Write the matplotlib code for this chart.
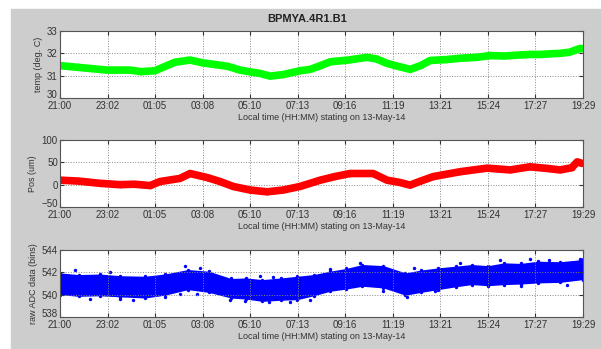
import matplotlib.pyplot as plt
import matplotlib.transforms as mtransforms
from matplotlib.patches import Rectangle

plt.rcParams["font.family"] = ["Liberation Sans", "DejaVu Sans"]

# hours since 21:00 on 12-May
tick_labels = ["21:00", "23:02", "01:05", "03:08", "05:10", "07:13",
               "09:16", "11:19", "13:21", "15:24", "17:27", "19:29"]
t_end = 22.48

temp_t = [0.0, 1.0, 2.02, 3.0, 3.48, 4.08, 4.94, 5.59, 6.1, 6.66, 7.2, 7.74,
          8.17, 8.6, 9.03, 9.6, 10.32, 10.75, 11.2, 11.61, 12.4, 13.2, 13.6,
          14.06, 14.6, 15.05, 15.5, 15.91, 16.6, 17.2, 17.9, 18.49, 19.1,
          19.65, 20.2, 20.64, 21.1, 21.5, 21.9, 22.36, 22.48]
temp_v = [31.45, 31.35, 31.25, 31.25, 31.18, 31.22, 31.6, 31.7, 31.58, 31.5,
          31.42, 31.25, 31.17, 31.1, 30.98, 31.05, 31.22, 31.28, 31.45, 31.62,
          31.7, 31.82, 31.75, 31.55, 31.4, 31.28, 31.45, 31.68, 31.72, 31.78,
          31.82, 31.9, 31.88, 31.92, 31.95, 31.95, 31.98, 32.0, 32.05, 32.22,
          32.2]

pos_t = [0.0, 0.8, 1.72, 2.58, 3.2, 3.87, 4.3, 5.16, 5.59, 6.32, 6.88, 7.44,
         8.17, 8.9, 9.59, 10.32, 11.18, 11.8, 12.47, 13.46, 14.06, 14.6,
         15.05, 15.5, 16.04, 17.2, 18.36, 19.35, 20.2, 21.0, 21.5, 22.0,
         22.23, 22.48]
pos_v = [10, 8, 3, 0, 1, -2, 7, 14, 25, 16, 7, -4, -12, -16, -12, -4, 10,
         18, 25, 25, 10, 5, -1, 8, 18, 29, 37, 33, 40, 36, 33, 38, 51, 47]

adc_t = [0.0, 0.8, 1.7, 2.6, 3.65, 4.5, 5.5, 6.4, 7.35, 8.0, 8.7, 9.5, 10.2,
         10.9, 11.6, 12.3, 13.0, 13.9, 14.85, 15.5, 16.25, 17.0, 17.7, 18.4,
         19.1, 19.8, 20.55, 21.5, 22.48]
adc_hi = [541.95, 541.8, 541.85, 541.7, 541.65, 541.85, 542.25, 542.1,
          541.45, 541.5, 541.35, 541.5, 541.65, 541.8, 542.1, 542.35, 542.7,
          542.6, 541.95, 542.2, 542.4, 542.55, 542.7, 542.6, 542.85, 542.8,
          543.0, 542.95, 543.15]
adc_lo = [540.0, 539.85, 539.9, 539.8, 539.7, 539.95, 540.45, 540.2, 539.7,
          539.6, 539.4, 539.5, 539.55, 539.9, 540.3, 540.5, 540.75, 540.6,
          539.95, 540.2, 540.45, 540.7, 540.9, 540.8, 540.9, 540.95, 541.05,
          541.1, 541.35]
adc_out_t = [0.64, 1.29, 2.15, 3.14, 5.37, 5.16, 6.02, 7.31, 7.95, 9.16, 9.9,
             10.75, 12.9, 14.92, 17.2, 18.92, 20.2, 21.8, 22.36, 13.9, 4.5,
             11.6, 16.1, 19.8, 2.6, 8.6, 5.9, 9.0, 15.2, 21.0]
adc_out_v = [542.2, 539.65, 542.0, 539.55, 542.57, 540.1, 542.35, 539.5,
             539.4, 541.6, 539.35, 539.5, 542.85, 539.75, 542.85, 543.1,
             543.15, 540.9, 543.2, 540.35, 539.75, 542.3, 540.3, 540.75,
             539.65, 541.65, 540.05, 539.3, 542.35, 543.1]

fig = plt.figure(figsize=(6.01, 3.49), dpi=100, facecolor="white")
fig.patches.append(Rectangle((11 / 601, 0), 590 / 601, 340 / 349,
                             transform=fig.transFigure, color="#cdcdcd",
                             zorder=-10))

W, H = 601, 349
boxes = [(60, 31, 583, 98), (60, 140, 583, 207), (60, 250, 583, 317)]
axes = [fig.add_axes([l / W, 1 - b / H, (r - l) / W, (b - t) / H])
        for l, t, r, b in boxes]

xticks = [t_end * i / 11 for i in range(12)]

axes[0].plot(temp_t, temp_v, color="#00ff00", lw=5.5, solid_capstyle="butt",
             marker="o", ms=4, mew=0)
axes[0].set_ylim(30, 33)
axes[0].set_yticks([30, 31, 32, 33])
axes[0].set_ylabel("temp (deg. C)")

axes[1].plot(pos_t, pos_v, color="#ff0000", lw=5.5, solid_capstyle="butt",
             marker="o", ms=4, mew=0)
axes[1].set_ylim(-50, 100)
axes[1].set_yticks([-50, 0, 50, 100])
axes[1].set_ylabel("Pos (um)")

axes[2].fill_between(adc_t, adc_lo, adc_hi, color="#0000ff", lw=0)
axes[2].scatter(adc_t, adc_hi, s=6, color="#0000ff", lw=0)
axes[2].scatter(adc_t, adc_lo, s=6, color="#0000ff", lw=0)
axes[2].scatter(adc_out_t, adc_out_v, s=6, color="#0000ff", lw=0)
axes[2].set_ylim(538, 544)
axes[2].set_yticks([538, 540, 542, 544])
axes[2].set_ylabel("raw ADC data (bins)")

lift = mtransforms.ScaledTranslation(0, 3 / 72, fig.dpi_scale_trans)
for ax in axes:
    ax.set_xlim(0, t_end)
    ax.set_xticks(xticks)
    ax.set_xticklabels(tick_labels)
    ax.set_xlabel("Local time (HH:MM) stating on 13-May-14", fontsize=6.5,
                  labelpad=1, color="#333333")
    ax.yaxis.label.set_fontsize(6.5)
    ax.yaxis.label.set_color("#333333")
    ax.yaxis.labelpad = 3
    ax.grid(True, ls=":", color="#888888", lw=0.7)
    ax.tick_params(direction="in", top=True, right=True, length=3,
                   labelsize=7, pad=1.5, colors="#333333")
    ax.tick_params(axis="x", pad=2.5)
    # lowest y label sits a little above the first time label
    low = ax.get_yticklabels()[0]
    low.set_transform(low.get_transform() + lift)
    for s in ax.spines.values():
        s.set_color("#555555")
        s.set_linewidth(0.8)

fig.text(307 / W, 1 - 19 / H, "BPMYA.4R1.B1", ha="center", va="center",
         fontsize=8, fontweight="bold", color="#222222")

fig.savefig("out.png", dpi=100, facecolor=fig.get_facecolor())
